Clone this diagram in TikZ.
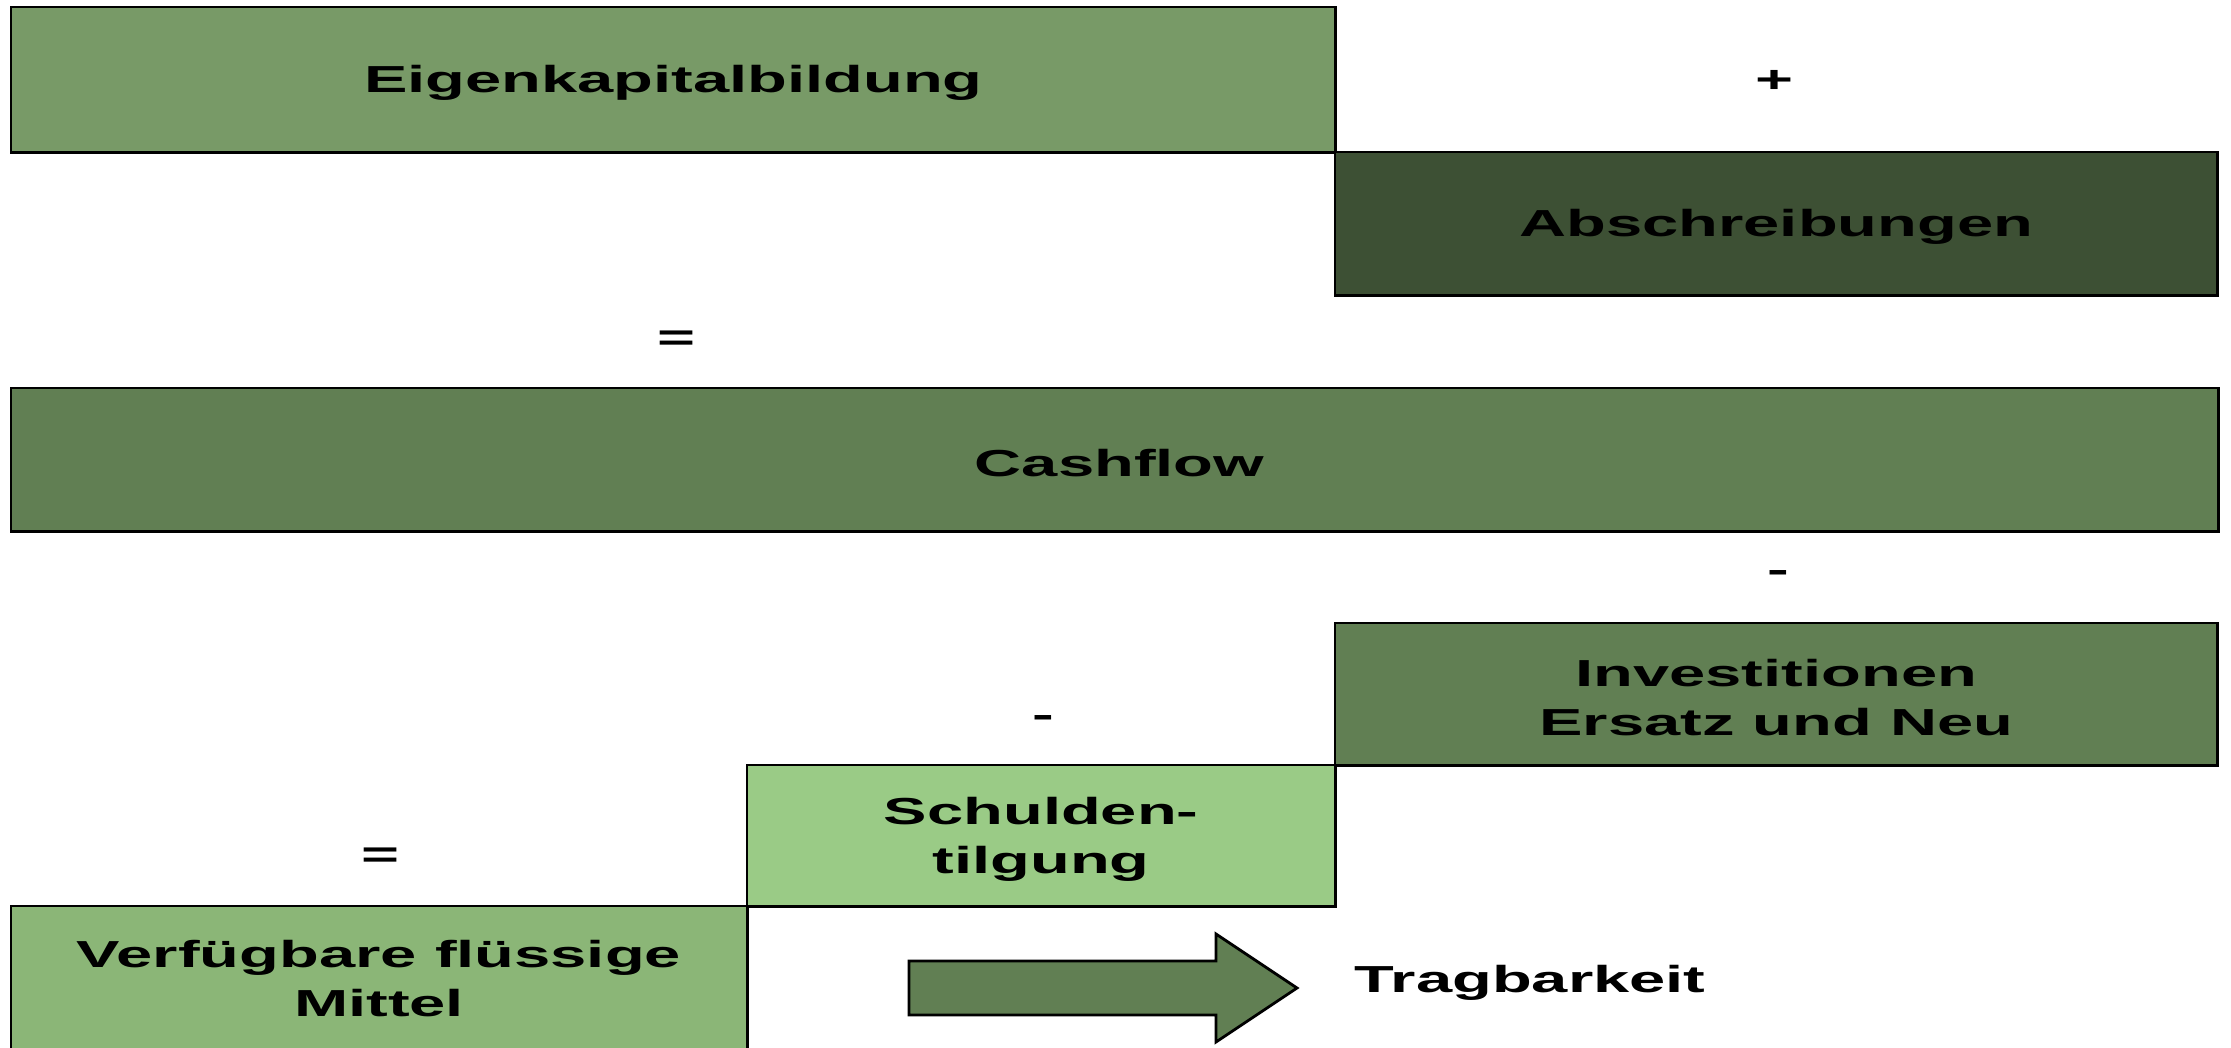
\documentclass[tikz,border=0pt]{standalone}
\usepackage{fontspec}
\setmainfont{Liberation Sans}[FakeStretch=1.73]
\definecolor{cEigen}{RGB}{120,154,103}
\definecolor{cAbsch}{RGB}{61,80,52}
\definecolor{cCash}{RGB}{97,127,83}
\definecolor{cSchuld}{RGB}{154,203,134}
\definecolor{cVerf}{RGB}{139,182,119}
\begin{document}
\begin{tikzpicture}[x=0.01cm,y=-0.01cm,
  box/.style={draw=black,line width=0.8pt,rectangle,anchor=north west,inner sep=0pt,outer sep=0pt},
  lbl/.style={font=\fontsize{10.7}{13.9}\selectfont\bfseries,align=center,inner sep=0pt,yshift=-0.035cm},
  sign/.style={font=\fontsize{10.7}{13.9}\selectfont\bfseries,inner sep=0pt}]
\useasboundingbox (0,0) rectangle (2231,1047);
\begin{scope}
\clip (0,0) rectangle (2231,1047);
\node[box,fill=cEigen,minimum width=13.24cm,minimum height=1.45cm] (eigen) at (11,7) {};
\node[box,fill=cAbsch,minimum width=8.82cm,minimum height=1.43cm] (absch) at (1335,152) {};
\node[box,fill=cCash,minimum width=22.06cm,minimum height=1.43cm] (cash) at (11,388) {};
\node[box,fill=cCash,minimum width=8.82cm,minimum height=1.42cm] (inv) at (1335,623) {};
\node[box,fill=cSchuld,minimum width=5.88cm,minimum height=1.41cm] (schuld) at (747,765) {};
\node[box,fill=cVerf,minimum width=7.36cm,minimum height=1.8cm] (verf) at (11,906) {};
\end{scope}
\node[lbl] (teigen) at (eigen.center) {Eigenkapitalbildung};
\node[lbl] (tabsch) at (absch.center) {Abschreibungen};
\node[lbl] (tcash) at ([xshift=0.05cm]cash.center) {Cashflow};
\node[lbl] (tinv) at (inv.center) {Investitionen\\Ersatz und Neu};
\node[lbl] (tschuld) at (schuld.center) {Schulden-\\tilgung};
\node[lbl] (tverf) at (379,975) {Verfügbare flüssige\\Mittel};
\node[sign] (plus) at (1774,81) {+};
\node[sign] (eq1) at (676,341) {=};
\node[sign] (min1) at (1778,576) {-};
\node[sign] (min2) at (1043,721) {-};
\node[sign] (eq2) at (381,858) {=};
\draw[fill=cCash,draw=black,line width=0.8pt] (909,961) -- (1216,961) -- (1216,934) -- (1297,988) -- (1216,1042) -- (1216,1015) -- (909,1015) -- cycle;
\node[lbl] (trag) at (1530,979) {Tragbarkeit};
\end{tikzpicture}
\end{document}
